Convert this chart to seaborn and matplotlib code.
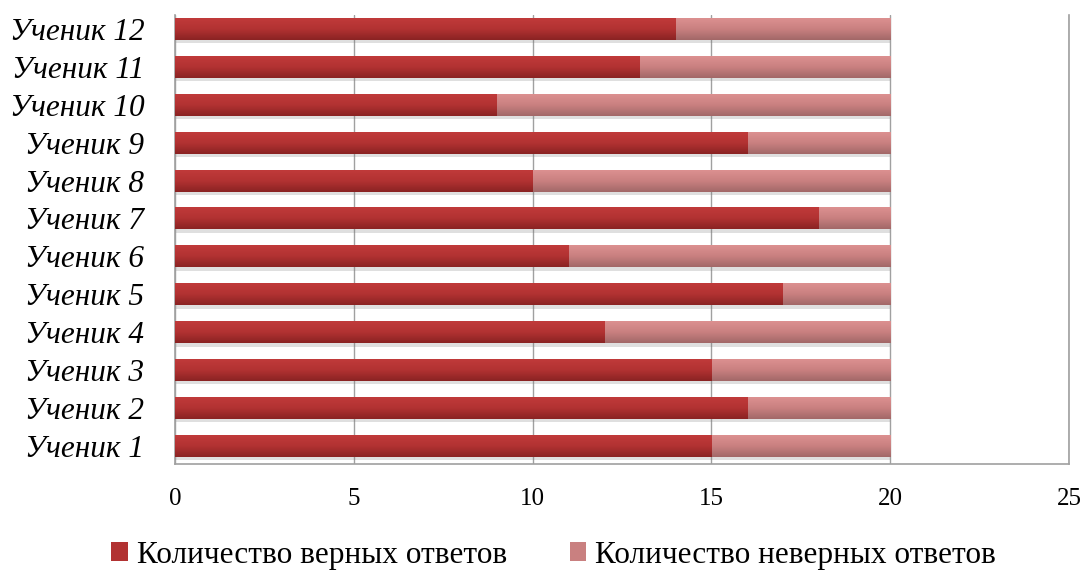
import numpy as np
import pandas as pd
import matplotlib
matplotlib.use("Agg")
import matplotlib.pyplot as plt
import matplotlib.patheffects as pe
from matplotlib.colors import LinearSegmentedColormap
from matplotlib.patches import Patch
import seaborn as sns

students = [f"Ученик {i}" for i in range(1, 13)]
correct = [15, 16, 15, 12, 17, 11, 18, 10, 16, 9, 13, 14]
incorrect = [5, 4, 5, 8, 3, 9, 2, 10, 4, 11, 7, 6]
series_names = ["Количество верных ответов", "Количество неверных ответов"]
x_ticks = [0, 5, 10, 15, 20, 25]

df = pd.DataFrame({"student": students, "correct": correct, "incorrect": incorrect})
df["total"] = df["correct"] + df["incorrect"]
order = students[::-1]

sns.set_theme(style="white")
plt.rcParams["font.family"] = ["Liberation Serif", "DejaVu Serif"]
plt.rcParams["text.color"] = "black"
plt.rcParams["xtick.color"] = "black"
plt.rcParams["ytick.color"] = "black"

fig, ax = plt.subplots(figsize=(10.86, 5.71), dpi=100)
fig.subplots_adjust(left=175 / 1086, right=1069 / 1086, top=1 - 15 / 571, bottom=1 - 464 / 571)

dark = ["#c03a3a", "#b23232", "#8a2323"]
light = ["#dc9090", "#c98080", "#a26868"]

shadow = [pe.SimplePatchShadow(offset=(0, -2.5), shadow_rgbFace="#808080", alpha=0.25), pe.Normal()]

# full bar (correct + incorrect) underneath, correct part drawn over it
sns.barplot(data=df, y="student", x="total", order=order, orient="h",
            color=light[1], width=0.58, saturation=1, ax=ax, zorder=2)
n_light = len(ax.patches)
sns.barplot(data=df, y="student", x="correct", order=order, orient="h",
            color=dark[1], width=0.58, saturation=1, ax=ax, zorder=3)

ax.set_xlim(0, 25)
ax.set_ylim(11.48, -0.37)

# vertical shading on each bar
grad = np.linspace(0, 1, 64).reshape(-1, 1)
cm_light = LinearSegmentedColormap.from_list("lt", light)
cm_dark = LinearSegmentedColormap.from_list("dk", dark)
for i, p in enumerate(ax.patches):
    cmap = cm_light if i < n_light else cm_dark
    z = 2 if i < n_light else 3
    p.set_edgecolor("none")
    if i < n_light:
        p.set_path_effects(shadow)
    x0, y0 = p.get_x(), p.get_y()
    w, h = p.get_width(), p.get_height()
    im = ax.imshow(grad, cmap=cmap, aspect="auto", extent=(x0, x0 + w, y0 + h, y0),
                   origin="upper", zorder=z + 0.5, interpolation="bilinear")
    im.set_clip_path(p)

ax.set_xlim(0, 25)
ax.set_ylim(11.48, -0.37)

ax.set_xticks(x_ticks)
ax.set_xticklabels([str(t) for t in x_ticks], fontsize=18, color="black")
ax.tick_params(axis="x", length=0, pad=17)
ax.tick_params(axis="y", length=0, pad=22)
for lbl in ax.get_yticklabels():
    lbl.set_fontstyle("italic")
    lbl.set_fontsize(22.5)
    lbl.set_color("black")
ax.set_xlabel("")
ax.set_ylabel("")

ax.set_axisbelow(True)
ax.xaxis.grid(True, color="#a0a0a0", linewidth=1.0)
ax.yaxis.grid(False)
for side in ["left", "bottom", "right"]:
    ax.spines[side].set_visible(True)
    ax.spines[side].set_color("#a0a0a0")
    ax.spines[side].set_linewidth(1.2)
ax.spines["top"].set_visible(False)

handles = [Patch(facecolor=dark[1], edgecolor="none"), Patch(facecolor=light[1], edgecolor="none")]
leg = fig.legend(handles, series_names, loc="center", bbox_to_anchor=(0.51, 16 / 571), ncol=2,
                 frameon=False, fontsize=22.5, handlelength=0.52, handleheight=0.52,
                 handletextpad=0.3, columnspacing=2.0, borderpad=0, borderaxespad=0)
for t in leg.get_texts():
    t.set_color("black")

fig.savefig("out.png", dpi=100)
